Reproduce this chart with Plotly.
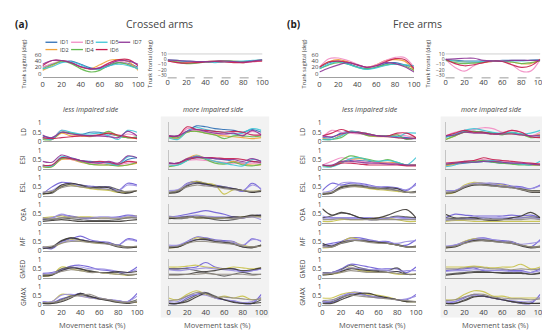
import plotly.graph_objects as go

# ---------------- data ----------------
x_pct = [0, 10, 20, 30, 40, 50, 60, 70, 80, 90, 100]
x_ticks = [0, 20, 40, 60, 80, 100]
ids = ["ID1", "ID2", "ID3", "ID4", "ID5", "ID6", "ID7"]
id_colors = ["#2f6fb5", "#f2a33a", "#f28cc4", "#62b84e", "#3fc6d6", "#c71f4f", "#8e3597"]
low_colors = ["#6f5fd6", "#c9c24c", "#5e5e5e", "#9c90e2", "#3e3a36", "#928c82"]
muscles = ["LD", "ESI", "ESL", "OEA", "MF", "GMED", "GMAX"]
sag_ticks = [0, 20, 40, 60]
fro_ticks = [-30, -20, -10, 0, 10]
emg_ticks = [0, 0.5, 1]
emg_ticktext = ["0", "0.5", "1"]

# Trunk angles (deg), rows = ID1..ID7
a_sag = [
    [20, 30, 38, 40, 30, 18, 15, 25, 35, 32, 20],
    [10, 25, 40, 35, 20, 15, 28, 43, 45, 38, 10],
    [20, 32, 40, 35, 22, 15, 20, 35, 40, 30, 15],
    [15, 28, 40, 32, 15, 5, 10, 28, 35, 28, 15],
    [15, 22, 35, 38, 28, 15, 15, 25, 30, 25, 15],
    [25, 42, 42, 35, 22, 15, 18, 35, 45, 45, 25],
    [30, 42, 42, 35, 22, 15, 18, 30, 42, 40, 30],
]
a_fro = [
    [-2, -3, -4, -5, -5, -4, -3, -4, -4, -3, -2],
    [-3, -5, -6, -5, -4, -3, -3, -5, -6, -4, -3],
    [-3, -6, -7, -6, -5, -4, -4, -5, -6, -5, -3],
    [-2, -5, -8, -7, -5, -4, -3, -3, -4, -3, -1],
    [-1, -2, -3, -4, -5, -6, -5, -4, -3, -2, -1],
    [-3, -6, -7, -6, -5, -4, -5, -6, -6, -4, -3],
    [-1, -2, -3, -4, -4, -3, -3, -4, -5, -3, -1],
]
b_sag = [
    [20, 35, 40, 32, 22, 15, 20, 32, 35, 28, 20],
    [20, 38, 45, 38, 28, 20, 28, 42, 45, 40, 10],
    [20, 48, 50, 42, 30, 20, 28, 42, 52, 52, 20],
    [15, 28, 35, 30, 20, 15, 20, 28, 30, 25, 10],
    [15, 30, 38, 30, 20, 13, 18, 26, 30, 28, 25],
    [20, 38, 40, 36, 28, 20, 25, 38, 48, 45, 15],
    [5, 18, 28, 35, 28, 20, 25, 35, 32, 22, 5],
]
b_fro = [
    [-1, -2, -3, -3, -3, -3, -2, -2, -2, -2, -1],
    [0, -3, -5, -6, -6, -4, -3, -5, -8, -8, 0],
    [0, -15, -22, -12, -5, -4, -3, -10, -22, -22, 0],
    [-2, -6, -8, -7, -5, -3, -4, -5, -8, -6, -3],
    [0, -3, -5, -5, -4, -3, -3, -3, -3, -2, -2],
    [0, -8, -12, -10, -6, -3, -4, -10, -15, -12, 0],
    [0, 1, 2, 2, -2, -3, -3, -2, -2, -2, -2],
]

# EMG envelopes (normalised), LD/ESI rows = ID1..ID7, others = 6 traces
a_less_LD = [
    [0.3, 0.2, 0.5, 0.45, 0.35, 0.5, 0.5, 0.4, 0.3, 0.2, 0.2],
    [0.15, 0.1, 0.45, 0.3, 0.3, 0.25, 0.35, 0.45, 0.3, 0.2, 0.15],
    [0.2, 0.15, 0.6, 0.45, 0.35, 0.3, 0.3, 0.3, 0.2, 0.4, 0.3],
    [0.1, 0.1, 0.5, 0.45, 0.35, 0.3, 0.35, 0.55, 0.3, 0.2, 0.25],
    [0.2, 0.1, 0.6, 0.5, 0.4, 0.4, 0.45, 0.3, 0.1, 0.6, 0.5],
    [0.2, 0.15, 0.2, 0.25, 0.3, 0.3, 0.35, 0.45, 0.35, 0.25, 0.15],
    [0.35, 0.2, 0.5, 0.4, 0.35, 0.3, 0.3, 0.25, 0.2, 0.55, 0.3],
]
a_less_ESI = [
    [0.15, 0.15, 0.6, 0.55, 0.45, 0.4, 0.35, 0.3, 0.2, 0.5, 0.6],
    [0.1, 0.1, 0.5, 0.5, 0.35, 0.25, 0.2, 0.2, 0.15, 0.2, 0.3],
    [0.15, 0.15, 0.55, 0.5, 0.4, 0.3, 0.3, 0.25, 0.2, 0.3, 0.35],
    [0.1, 0.1, 0.55, 0.55, 0.4, 0.25, 0.2, 0.2, 0.15, 0.2, 0.35],
    [0.2, 0.15, 0.65, 0.6, 0.45, 0.35, 0.35, 0.3, 0.2, 0.65, 0.6],
    [0.2, 0.2, 0.6, 0.55, 0.45, 0.35, 0.4, 0.35, 0.25, 0.4, 0.35],
    [0.4, 0.35, 0.75, 0.6, 0.45, 0.35, 0.3, 0.4, 0.3, 0.7, 0.6],
]
a_less_ESL = [
    [0.1, 0.5, 0.75, 0.7, 0.6, 0.55, 0.5, 0.5, 0.3, 0.7, 0.6],
    [0.1, 0.2, 0.55, 0.6, 0.5, 0.4, 0.35, 0.3, 0.2, 0.2, 0.3],
    [0.15, 0.15, 0.5, 0.65, 0.6, 0.5, 0.45, 0.5, 0.35, 0.2, 0.3],
    [0.2, 0.3, 0.6, 0.7, 0.55, 0.5, 0.4, 0.45, 0.3, 0.6, 0.55],
    [0.1, 0.2, 0.6, 0.7, 0.6, 0.45, 0.5, 0.45, 0.2, 0.15, 0.3],
    [0.2, 0.25, 0.45, 0.55, 0.5, 0.45, 0.4, 0.35, 0.25, 0.25, 0.3],
]
a_less_OEA = [
    [0.2, 0.3, 0.45, 0.4, 0.3, 0.25, 0.3, 0.3, 0.35, 0.45, 0.4],
    [0.3, 0.35, 0.4, 0.3, 0.35, 0.35, 0.3, 0.3, 0.3, 0.35, 0.4],
    [0.2, 0.2, 0.3, 0.25, 0.2, 0.15, 0.15, 0.15, 0.2, 0.3, 0.3],
    [0.25, 0.3, 0.5, 0.35, 0.3, 0.3, 0.35, 0.35, 0.3, 0.4, 0.35],
    [0.1, 0.15, 0.2, 0.15, 0.1, 0.1, 0.1, 0.1, 0.1, 0.15, 0.2],
    [0.3, 0.25, 0.3, 0.35, 0.3, 0.3, 0.25, 0.25, 0.25, 0.3, 0.3],
]
a_less_MF = [
    [0.2, 0.1, 0.5, 0.65, 0.8, 0.6, 0.5, 0.45, 0.3, 0.65, 0.55],
    [0.15, 0.2, 0.4, 0.6, 0.55, 0.45, 0.4, 0.4, 0.25, 0.2, 0.2],
    [0.2, 0.15, 0.5, 0.7, 0.6, 0.5, 0.45, 0.4, 0.3, 0.2, 0.2],
    [0.15, 0.2, 0.45, 0.55, 0.6, 0.5, 0.5, 0.4, 0.3, 0.6, 0.5],
    [0.1, 0.2, 0.55, 0.7, 0.6, 0.5, 0.45, 0.35, 0.2, 0.15, 0.2],
    [0.2, 0.25, 0.4, 0.5, 0.5, 0.45, 0.4, 0.35, 0.25, 0.2, 0.25],
]
a_less_GMED = [
    [0.25, 0.3, 0.45, 0.65, 0.7, 0.6, 0.45, 0.4, 0.3, 0.3, 0.6],
    [0.1, 0.15, 0.6, 0.5, 0.4, 0.35, 0.3, 0.25, 0.2, 0.15, 0.2],
    [0.15, 0.2, 0.5, 0.6, 0.5, 0.4, 0.3, 0.3, 0.3, 0.15, 0.2],
    [0.2, 0.25, 0.4, 0.55, 0.6, 0.5, 0.5, 0.45, 0.35, 0.3, 0.45],
    [0.1, 0.15, 0.4, 0.55, 0.5, 0.35, 0.3, 0.3, 0.35, 0.3, 0.35],
    [0.2, 0.2, 0.35, 0.45, 0.4, 0.3, 0.3, 0.25, 0.2, 0.2, 0.2],
]
a_less_GMAX = [
    [0.2, 0.15, 0.35, 0.5, 0.65, 0.45, 0.4, 0.3, 0.25, 0.2, 0.65],
    [0.1, 0.2, 0.6, 0.55, 0.5, 0.4, 0.35, 0.3, 0.2, 0.2, 0.15],
    [0.1, 0.1, 0.3, 0.5, 0.6, 0.45, 0.35, 0.3, 0.2, 0.15, 0.3],
    [0.2, 0.2, 0.55, 0.6, 0.5, 0.4, 0.35, 0.3, 0.25, 0.2, 0.5],
    [0.1, 0.1, 0.2, 0.4, 0.65, 0.5, 0.35, 0.25, 0.15, 0.1, 0.2],
    [0.15, 0.15, 0.25, 0.45, 0.55, 0.6, 0.4, 0.3, 0.2, 0.15, 0.2],
]
a_more_LD = [
    [0.3, 0.3, 0.55, 0.85, 0.8, 0.7, 0.65, 0.6, 0.5, 0.65, 0.5],
    [0.2, 0.15, 0.5, 0.55, 0.45, 0.35, 0.3, 0.25, 0.2, 0.15, 0.2],
    [0.3, 0.2, 0.7, 0.6, 0.5, 0.45, 0.4, 0.45, 0.35, 0.55, 0.4],
    [0.25, 0.2, 0.5, 0.55, 0.45, 0.35, 0.15, 0.3, 0.3, 0.25, 0.3],
    [0.2, 0.1, 0.55, 0.75, 0.65, 0.55, 0.5, 0.4, 0.45, 0.7, 0.6],
    [0.3, 0.3, 0.8, 0.65, 0.6, 0.55, 0.5, 0.55, 0.5, 0.35, 0.35],
    [0.3, 0.3, 0.55, 0.65, 0.55, 0.45, 0.4, 0.45, 0.3, 0.6, 0.35],
]
a_more_ESI = [
    [0.3, 0.3, 0.5, 0.6, 0.6, 0.55, 0.5, 0.4, 0.3, 0.4, 0.3],
    [0.1, 0.3, 0.55, 0.75, 0.55, 0.4, 0.3, 0.4, 0.25, 0.2, 0.2],
    [0.2, 0.25, 0.45, 0.5, 0.45, 0.4, 0.35, 0.3, 0.3, 0.3, 0.3],
    [0.1, 0.2, 0.45, 0.65, 0.5, 0.3, 0.25, 0.35, 0.2, 0.15, 0.25],
    [0.2, 0.2, 0.45, 0.7, 0.55, 0.4, 0.3, 0.2, 0.15, 0.5, 0.4],
    [0.3, 0.3, 0.5, 0.6, 0.6, 0.6, 0.55, 0.55, 0.5, 0.4, 0.35],
    [0.3, 0.3, 0.55, 0.65, 0.6, 0.55, 0.5, 0.5, 0.4, 0.55, 0.4],
]
a_more_ESL = [
    [0.2, 0.3, 0.7, 0.8, 0.7, 0.6, 0.5, 0.4, 0.25, 0.7, 0.35],
    [0.15, 0.3, 0.65, 0.8, 0.7, 0.6, 0.1, 0.35, 0.3, 0.25, 0.3],
    [0.2, 0.25, 0.6, 0.75, 0.65, 0.55, 0.5, 0.4, 0.3, 0.2, 0.3],
    [0.3, 0.35, 0.65, 0.7, 0.6, 0.5, 0.45, 0.4, 0.3, 0.6, 0.4],
    [0.15, 0.2, 0.55, 0.7, 0.65, 0.55, 0.45, 0.4, 0.3, 0.2, 0.25],
    [0.2, 0.3, 0.5, 0.6, 0.55, 0.5, 0.4, 0.35, 0.3, 0.25, 0.3],
]
a_more_OEA = [
    [0.35, 0.4, 0.5, 0.6, 0.7, 0.6, 0.5, 0.35, 0.3, 0.4, 0.45],
    [0.3, 0.3, 0.35, 0.3, 0.3, 0.25, 0.3, 0.3, 0.35, 0.4, 0.35],
    [0.3, 0.25, 0.3, 0.4, 0.3, 0.2, 0.15, 0.2, 0.3, 0.4, 0.45],
    [0.4, 0.35, 0.4, 0.45, 0.4, 0.35, 0.35, 0.3, 0.3, 0.35, 0.2],
    [0.25, 0.3, 0.35, 0.3, 0.3, 0.3, 0.3, 0.35, 0.35, 0.45, 0.4],
    [0.35, 0.3, 0.3, 0.35, 0.35, 0.3, 0.3, 0.25, 0.3, 0.35, 0.35],
]
a_more_MF = [
    [0.2, 0.25, 0.5, 0.75, 0.7, 0.6, 0.55, 0.5, 0.25, 0.65, 0.5],
    [0.15, 0.2, 0.45, 0.7, 0.65, 0.55, 0.5, 0.45, 0.3, 0.2, 0.25],
    [0.2, 0.2, 0.45, 0.6, 0.65, 0.55, 0.5, 0.4, 0.2, 0.2, 0.3],
    [0.3, 0.3, 0.5, 0.6, 0.6, 0.55, 0.5, 0.45, 0.3, 0.6, 0.55],
    [0.15, 0.2, 0.4, 0.6, 0.6, 0.5, 0.45, 0.35, 0.2, 0.15, 0.3],
    [0.2, 0.25, 0.4, 0.5, 0.5, 0.45, 0.4, 0.35, 0.25, 0.2, 0.25],
]
a_more_GMED = [
    [0.5, 0.5, 0.55, 0.6, 0.85, 0.6, 0.5, 0.5, 0.3, 0.4, 0.5],
    [0.6, 0.6, 0.65, 0.7, 0.6, 0.55, 0.5, 0.6, 0.55, 0.5, 0.55],
    [0.5, 0.5, 0.5, 0.4, 0.3, 0.2, 0.1, 0.2, 0.3, 0.2, 0.2],
    [0.45, 0.4, 0.45, 0.5, 0.55, 0.5, 0.45, 0.4, 0.35, 0.4, 0.5],
    [0.2, 0.2, 0.2, 0.3, 0.35, 0.4, 0.5, 0.5, 0.4, 0.45, 0.55],
    [0.15, 0.15, 0.2, 0.2, 0.25, 0.2, 0.2, 0.2, 0.2, 0.15, 0.2],
]
a_more_GMAX = [
    [0.1, 0.1, 0.4, 0.6, 0.7, 0.4, 0.3, 0.2, 0.1, 0.1, 0.6],
    [0.4, 0.3, 0.6, 0.8, 0.6, 0.4, 0.5, 0.4, 0.5, 0.3, 0.4],
    [0.1, 0.1, 0.3, 0.55, 0.7, 0.5, 0.3, 0.2, 0.1, 0.1, 0.3],
    [0.2, 0.2, 0.5, 0.6, 0.55, 0.4, 0.3, 0.25, 0.15, 0.2, 0.45],
    [0.1, 0.1, 0.2, 0.45, 0.65, 0.45, 0.3, 0.15, 0.1, 0.1, 0.15],
    [0.25, 0.3, 0.5, 0.7, 0.65, 0.45, 0.45, 0.4, 0.35, 0.3, 0.35],
]
b_less_LD = [
    [0.2, 0.2, 0.45, 0.55, 0.5, 0.4, 0.3, 0.3, 0.25, 0.2, 0.2],
    [0.15, 0.1, 0.35, 0.55, 0.45, 0.3, 0.25, 0.25, 0.2, 0.15, 0.2],
    [0.2, 0.6, 0.5, 0.45, 0.4, 0.35, 0.3, 0.3, 0.35, 0.3, 0.2],
    [0.1, 0.1, 0.2, 0.5, 0.45, 0.3, 0.3, 0.3, 0.35, 0.1, 0.2],
    [0.1, 0.1, 0.3, 0.55, 0.5, 0.4, 0.3, 0.3, 0.25, 0.45, 0.45],
    [0.3, 0.45, 0.65, 0.5, 0.5, 0.4, 0.3, 0.3, 0.45, 0.45, 0.2],
    [0.3, 0.25, 0.4, 0.5, 0.45, 0.35, 0.3, 0.25, 0.2, 0.15, 0.15],
]
b_less_ESI = [
    [0.2, 0.15, 0.35, 0.45, 0.45, 0.4, 0.35, 0.3, 0.3, 0.2, 0.2],
    [0.15, 0.15, 0.35, 0.5, 0.55, 0.45, 0.35, 0.35, 0.3, 0.2, 0.2],
    [0.2, 0.4, 0.6, 0.5, 0.4, 0.35, 0.3, 0.3, 0.25, 0.2, 0.2],
    [0.2, 0.1, 0.45, 0.7, 0.6, 0.5, 0.4, 0.5, 0.35, 0.2, 0.2],
    [0.1, 0.1, 0.3, 0.55, 0.6, 0.45, 0.4, 0.45, 0.35, 0.2, 0.6],
    [0.2, 0.15, 0.3, 0.3, 0.25, 0.2, 0.2, 0.2, 0.2, 0.15, 0.15],
    [0.2, 0.2, 0.4, 0.4, 0.35, 0.3, 0.3, 0.25, 0.25, 0.2, 0.2],
]
b_less_ESL = [
    [0.3, 0.7, 0.6, 0.7, 0.7, 0.6, 0.5, 0.5, 0.45, 0.3, 0.7],
    [0.1, 0.2, 0.5, 0.55, 0.5, 0.4, 0.35, 0.3, 0.25, 0.2, 0.2],
    [0.1, 0.2, 0.5, 0.6, 0.6, 0.5, 0.45, 0.4, 0.3, 0.2, 0.25],
    [0.2, 0.3, 0.7, 0.75, 0.65, 0.55, 0.5, 0.45, 0.4, 0.35, 0.6],
    [0.1, 0.15, 0.45, 0.55, 0.55, 0.45, 0.4, 0.45, 0.4, 0.2, 0.2],
    [0.15, 0.2, 0.4, 0.5, 0.5, 0.45, 0.4, 0.35, 0.3, 0.2, 0.2],
]
b_less_OEA = [
    [0.3, 0.3, 0.3, 0.3, 0.3, 0.3, 0.3, 0.3, 0.35, 0.3, 0.3],
    [0.1, 0.1, 0.2, 0.2, 0.2, 0.25, 0.3, 0.3, 0.2, 0.1, 0.1],
    [0.3, 0.4, 0.55, 0.5, 0.3, 0.2, 0.2, 0.3, 0.4, 0.35, 0.3],
    [0.4, 0.3, 0.3, 0.25, 0.25, 0.2, 0.25, 0.3, 0.3, 0.25, 0.2],
    [0.8, 0.45, 0.6, 0.5, 0.3, 0.25, 0.3, 0.45, 0.65, 0.75, 0.3],
    [0.2, 0.2, 0.25, 0.2, 0.2, 0.2, 0.2, 0.2, 0.2, 0.2, 0.2],
]
b_less_MF = [
    [0.3, 0.4, 0.5, 0.7, 0.7, 0.6, 0.5, 0.5, 0.3, 0.3, 0.6],
    [0.15, 0.2, 0.45, 0.7, 0.6, 0.5, 0.45, 0.4, 0.3, 0.2, 0.2],
    [0.3, 0.2, 0.4, 0.5, 0.6, 0.55, 0.45, 0.4, 0.35, 0.2, 0.2],
    [0.2, 0.3, 0.45, 0.6, 0.6, 0.55, 0.5, 0.45, 0.4, 0.5, 0.55],
    [0.4, 0.25, 0.45, 0.55, 0.55, 0.5, 0.45, 0.4, 0.3, 0.2, 0.25],
    [0.2, 0.2, 0.4, 0.55, 0.55, 0.45, 0.4, 0.4, 0.3, 0.2, 0.2],
]
b_less_GMED = [
    [0.2, 0.3, 0.5, 0.75, 0.7, 0.6, 0.5, 0.5, 0.5, 0.3, 0.6],
    [0.2, 0.2, 0.3, 0.6, 0.4, 0.35, 0.3, 0.3, 0.2, 0.2, 0.2],
    [0.3, 0.3, 0.45, 0.7, 0.55, 0.45, 0.4, 0.4, 0.55, 0.2, 0.2],
    [0.25, 0.3, 0.4, 0.55, 0.5, 0.45, 0.45, 0.4, 0.35, 0.4, 0.4],
    [0.15, 0.2, 0.35, 0.5, 0.45, 0.4, 0.35, 0.3, 0.35, 0.2, 0.2],
    [0.2, 0.25, 0.3, 0.4, 0.35, 0.3, 0.3, 0.3, 0.25, 0.2, 0.2],
]
b_less_GMAX = [
    [0.2, 0.15, 0.4, 0.7, 0.7, 0.5, 0.4, 0.4, 0.3, 0.3, 0.6],
    [0.4, 0.4, 0.6, 0.7, 0.65, 0.6, 0.55, 0.45, 0.3, 0.2, 0.2],
    [0.2, 0.2, 0.4, 0.6, 0.6, 0.5, 0.45, 0.4, 0.3, 0.2, 0.2],
    [0.2, 0.25, 0.5, 0.65, 0.6, 0.5, 0.45, 0.4, 0.3, 0.35, 0.5],
    [0.1, 0.1, 0.3, 0.5, 0.65, 0.65, 0.5, 0.4, 0.3, 0.2, 0.2],
    [0.25, 0.3, 0.45, 0.55, 0.5, 0.45, 0.4, 0.35, 0.3, 0.25, 0.2],
]
b_more_LD = [
    [0.25, 0.35, 0.55, 0.55, 0.5, 0.45, 0.4, 0.45, 0.4, 0.3, 0.35],
    [0.1, 0.3, 0.5, 0.5, 0.45, 0.4, 0.4, 0.4, 0.35, 0.3, 0.4],
    [0.3, 0.5, 0.6, 0.65, 0.75, 0.7, 0.5, 0.6, 0.5, 0.3, 0.5],
    [0.1, 0.3, 0.5, 0.55, 0.5, 0.45, 0.35, 0.5, 0.4, 0.2, 0.25],
    [0.2, 0.4, 0.6, 0.7, 0.6, 0.5, 0.45, 0.5, 0.4, 0.45, 0.6],
    [0.3, 0.45, 0.6, 0.5, 0.5, 0.4, 0.45, 0.6, 0.5, 0.25, 0.2],
    [0.3, 0.35, 0.5, 0.45, 0.45, 0.4, 0.4, 0.4, 0.35, 0.3, 0.3],
]
b_more_ESI = [
    [0.2, 0.25, 0.3, 0.35, 0.4, 0.35, 0.3, 0.3, 0.25, 0.25, 0.2],
    [0.15, 0.25, 0.35, 0.4, 0.45, 0.4, 0.35, 0.3, 0.25, 0.2, 0.2],
    [0.2, 0.3, 0.4, 0.45, 0.5, 0.45, 0.4, 0.35, 0.3, 0.25, 0.25],
    [0.2, 0.3, 0.35, 0.4, 0.45, 0.35, 0.3, 0.25, 0.2, 0.2, 0.2],
    [0.1, 0.2, 0.4, 0.35, 0.4, 0.45, 0.35, 0.3, 0.25, 0.2, 0.4],
    [0.3, 0.35, 0.4, 0.45, 0.6, 0.5, 0.45, 0.4, 0.35, 0.3, 0.25],
    [0.25, 0.3, 0.35, 0.35, 0.4, 0.4, 0.35, 0.3, 0.3, 0.25, 0.2],
]
b_more_ESL = [
    [0.3, 0.3, 0.5, 0.7, 0.7, 0.7, 0.65, 0.55, 0.5, 0.4, 0.6],
    [0.1, 0.2, 0.6, 0.75, 0.7, 0.65, 0.6, 0.5, 0.4, 0.3, 0.3],
    [0.2, 0.25, 0.5, 0.6, 0.65, 0.6, 0.55, 0.5, 0.4, 0.3, 0.3],
    [0.3, 0.3, 0.55, 0.7, 0.7, 0.65, 0.55, 0.5, 0.45, 0.4, 0.55],
    [0.15, 0.2, 0.45, 0.6, 0.6, 0.55, 0.5, 0.45, 0.35, 0.2, 0.2],
    [0.2, 0.25, 0.5, 0.65, 0.6, 0.55, 0.5, 0.45, 0.35, 0.25, 0.25],
]
b_more_OEA = [
    [0.3, 0.5, 0.45, 0.4, 0.4, 0.4, 0.4, 0.45, 0.4, 0.45, 0.3],
    [0.1, 0.15, 0.15, 0.1, 0.1, 0.1, 0.1, 0.1, 0.1, 0.1, 0.1],
    [0.3, 0.25, 0.25, 0.3, 0.3, 0.25, 0.25, 0.3, 0.3, 0.35, 0.3],
    [0.2, 0.2, 0.25, 0.25, 0.3, 0.3, 0.3, 0.3, 0.3, 0.3, 0.25],
    [0.5, 0.3, 0.3, 0.3, 0.2, 0.15, 0.2, 0.3, 0.4, 0.6, 0.3],
    [0.15, 0.2, 0.2, 0.2, 0.2, 0.2, 0.2, 0.2, 0.2, 0.25, 0.2],
]
b_more_MF = [
    [0.2, 0.3, 0.5, 0.65, 0.7, 0.6, 0.55, 0.5, 0.3, 0.2, 0.6],
    [0.15, 0.25, 0.5, 0.65, 0.6, 0.55, 0.5, 0.45, 0.3, 0.2, 0.2],
    [0.2, 0.25, 0.45, 0.6, 0.6, 0.55, 0.5, 0.45, 0.3, 0.2, 0.25],
    [0.25, 0.3, 0.45, 0.6, 0.65, 0.6, 0.5, 0.45, 0.35, 0.4, 0.5],
    [0.15, 0.2, 0.4, 0.55, 0.55, 0.5, 0.45, 0.4, 0.25, 0.15, 0.2],
    [0.2, 0.25, 0.4, 0.5, 0.55, 0.5, 0.45, 0.4, 0.3, 0.2, 0.2],
]
b_more_GMED = [
    [0.4, 0.45, 0.5, 0.55, 0.4, 0.4, 0.45, 0.4, 0.4, 0.3, 0.5],
    [0.6, 0.6, 0.6, 0.65, 0.6, 0.55, 0.6, 0.6, 0.75, 0.5, 0.6],
    [0.2, 0.25, 0.3, 0.35, 0.35, 0.3, 0.3, 0.3, 0.3, 0.2, 0.3],
    [0.35, 0.4, 0.4, 0.45, 0.45, 0.4, 0.4, 0.35, 0.35, 0.3, 0.4],
    [0.15, 0.2, 0.25, 0.3, 0.3, 0.3, 0.25, 0.25, 0.25, 0.2, 0.25],
    [0.5, 0.5, 0.55, 0.6, 0.55, 0.5, 0.5, 0.45, 0.5, 0.45, 0.5],
]
b_more_GMAX = [
    [0.1, 0.2, 0.4, 0.6, 0.5, 0.4, 0.3, 0.2, 0.1, 0.1, 0.6],
    [0.3, 0.3, 0.6, 0.8, 0.75, 0.5, 0.5, 0.4, 0.4, 0.4, 0.4],
    [0.1, 0.1, 0.3, 0.5, 0.5, 0.4, 0.3, 0.2, 0.1, 0.1, 0.1],
    [0.2, 0.2, 0.45, 0.55, 0.5, 0.4, 0.3, 0.25, 0.2, 0.2, 0.45],
    [0.1, 0.1, 0.25, 0.45, 0.5, 0.4, 0.3, 0.2, 0.15, 0.1, 0.1],
    [0.25, 0.3, 0.45, 0.6, 0.6, 0.45, 0.4, 0.35, 0.35, 0.3, 0.35],
]

a_less = [a_less_LD, a_less_ESI, a_less_ESL, a_less_OEA, a_less_MF, a_less_GMED, a_less_GMAX]
a_more = [a_more_LD, a_more_ESI, a_more_ESL, a_more_OEA, a_more_MF, a_more_GMED, a_more_GMAX]
b_less = [b_less_LD, b_less_ESI, b_less_ESL, b_less_OEA, b_less_MF, b_less_GMED, b_less_GMAX]
b_more = [b_more_LD, b_more_ESI, b_more_ESL, b_more_OEA, b_more_MF, b_more_GMED, b_more_GMAX]

# ---------------- layout helpers ----------------
W, H = 550, 330
FONT = "Open Sans"
TXT = "#404040"
fig = go.Figure()
state = {"n": 0}
shapes = []
annotations = []


def px(x):
    return x / W


def py(y):
    return 1 - y / H


def new_axes(x0, x1, ytop, ybot, yrange, yticks, yticktext=None, show_x=True,
             show_yticks=True, xline=True, yline=False, ysize=6.5):
    state["n"] += 1
    n = state["n"]
    sfx = "" if n == 1 else str(n)
    fig.update_layout({
        "xaxis" + sfx: dict(domain=[px(x0), px(x1)], anchor="y" + sfx, range=[0, 100],
                            showgrid=False, zeroline=False, showline=xline,
                            linecolor="#a0a0a0", linewidth=1.4,
                            tickvals=x_ticks if show_x else [], ticks="",
                            tickfont=dict(size=7.5, color=TXT, family=FONT)),
        "yaxis" + sfx: dict(domain=[py(ybot), py(ytop)], anchor="x" + sfx, range=yrange,
                            showgrid=False, zeroline=False, showline=yline,
                            linecolor="#c4c4c4", linewidth=0.8,
                            tickvals=yticks if show_yticks else [],
                            ticktext=yticktext, ticks="",
                            tickfont=dict(size=ysize, color=TXT, family=FONT)),
    })
    return "x" + sfx, "y" + sfx


def add_lines(series, colors, xa, ya, width=1.15):
    for vals, col in zip(series, colors):
        fig.add_trace(go.Scatter(x=x_pct, y=vals, mode="lines", xaxis=xa, yaxis=ya,
                                 line=dict(color=col, width=width, shape="spline"),
                                 opacity=0.9, showlegend=False, hoverinfo="skip"))


def text(x, y, s, size=7, color=TXT, angle=0, italic=False, bold=False):
    if italic:
        s = "<i>" + s + "</i>"
    if bold:
        s = "<b>" + s + "</b>"
    annotations.append(dict(x=px(x), y=py(y), xref="paper", yref="paper", text=s,
                            showarrow=False, textangle=angle, xanchor="center",
                            yanchor="middle", borderpad=0,
                            font=dict(size=size, color=color, family=FONT)))


# ---------------- panels ----------------
row_top = [114, 142, 170, 198, 226, 254, 282]
row_h = 18.5

panels = [
    dict(tag="(a)", title="Crossed arms", tagx=12, titlex=152, sag=a_sag, fro=a_fro,
         sagx=(33, 130), frox=(160, 256), less=a_less, more=a_more,
         lessx=(33, 129), morex=(161, 255), box=(153, 263), ylab_x=13, froylab_x=142),
    dict(tag="(b)", title="Free arms", tagx=288, titlex=414, sag=b_sag, fro=b_fro,
         sagx=(314, 410), frox=(442, 538), less=b_less, more=b_more,
         lessx=(317, 412), morex=(442, 538), box=(437, 546), ylab_x=297, froylab_x=424),
]

for p in panels:
    # grey background for the more-impaired column
    shapes.append(dict(type="rect", xref="paper", yref="paper", layer="below",
                       x0=px(p["box"][0]), x1=px(p["box"][1]), y0=py(313), y1=py(107),
                       fillcolor="#f2f2f2", line=dict(width=0)))
    text(p["tagx"], 12, p["tag"], size=10, color="#222222", bold=True)
    text(p["titlex"], 12, p["title"], size=10.5, color="#444444")

    # trunk sagittal
    xa, ya = new_axes(p["sagx"][0], p["sagx"][1], 43.4, 66.8, [-12, 62], sag_ticks, ysize=6)
    add_lines(p["sag"], id_colors, xa, ya)
    text(p["ylab_x"] + 1, 53, "Trunk sagittal (deg)", size=5.5, angle=-90)

    # trunk frontal
    xa, ya = new_axes(p["frox"][0], p["frox"][1], 42.5, 66.1, [-32, 11], fro_ticks,
                      xline=False, ysize=5)
    add_lines(p["fro"], id_colors, xa, ya)
    text(p["froylab_x"], 53, "Trunk frontal (deg)", size=5.5, angle=-90)
    shapes.append(dict(type="line", xref="paper", yref="paper",
                       x0=px(p["frox"][0]), x1=px(p["frox"][1]), y0=py(67.5), y1=py(67.5),
                       line=dict(color="#9b9b9b", width=1, dash="dash")))
    shapes.append(dict(type="line", xref="paper", yref="paper",
                       x0=px(p["frox"][0]), x1=px(p["frox"][1]), y0=py(43), y1=py(43),
                       line=dict(color="#c4c4c4", width=0.8)))

    # column headers
    text((p["lessx"][0] + p["lessx"][1]) / 2 + 1, 99.5, "less impaired side", size=7, italic=True)
    text((p["morex"][0] + p["morex"][1]) / 2 - 1, 99.5, "more impaired side", size=7, italic=True)

    for i, m in enumerate(muscles):
        t = row_top[i]
        last = i == len(muscles) - 1
        cols = id_colors if i < 2 else low_colors
        xa, ya = new_axes(p["lessx"][0], p["lessx"][1], t - 1, t + row_h, [0, 1.05],
                          emg_ticks, emg_ticktext, show_x=last)
        add_lines(p["less"][i], cols, xa, ya)
        xa, ya = new_axes(p["morex"][0], p["morex"][1], t - 1, t + row_h, [0, 1.05],
                          emg_ticks, emg_ticktext, show_x=last, show_yticks=False, yline=True)
        add_lines(p["more"][i], cols, xa, ya)
        text(p["ylab_x"], t + row_h / 2, m, size=6.5, angle=-90)

    text((p["lessx"][0] + p["lessx"][1]) / 2 + 3, 321, "Movement task (%)", size=7.5, color="#555555")
    text((p["morex"][0] + p["morex"][1]) / 2 + 3, 321, "Movement task (%)", size=7.5, color="#555555")

# legend (panel a only)
leg_cols = [36, 62, 87, 110]
leg_rows = [31, 38.5]
leg_order = [[0, 2, 4, 6], [1, 3, 5]]
for r, idxs in enumerate(leg_order):
    for c, k in enumerate(idxs):
        x0 = leg_cols[c]
        shapes.append(dict(type="line", xref="paper", yref="paper",
                           x0=px(x0), x1=px(x0 + 12), y0=py(leg_rows[r]), y1=py(leg_rows[r]),
                           line=dict(color=id_colors[k], width=1.3)))
        annotations.append(dict(x=px(x0 + 13.5), y=py(leg_rows[r]), xref="paper", yref="paper",
                                text=ids[k], showarrow=False, xanchor="left", yanchor="middle",
                                borderpad=0,
                                font=dict(size=5.5, color=TXT, family=FONT)))

fig.update_layout(width=W, height=H, margin=dict(l=0, r=0, t=0, b=0),
                  paper_bgcolor="white", plot_bgcolor="rgba(0,0,0,0)",
                  shapes=shapes, annotations=annotations, showlegend=False,
                  font=dict(family=FONT, color=TXT))
fig.write_html("out.html")
